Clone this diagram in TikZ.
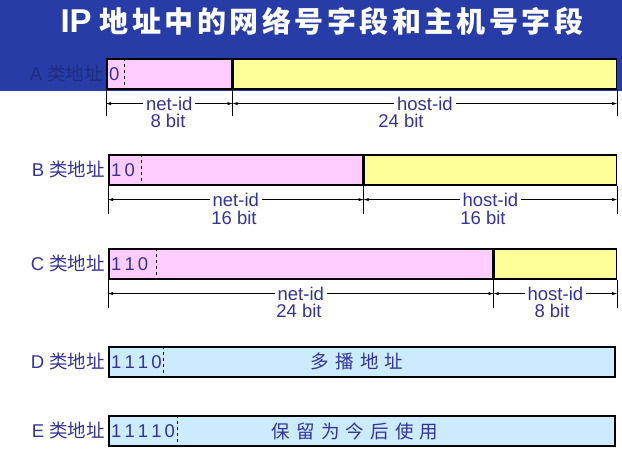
\documentclass[tikz,border=0pt]{standalone}
\usepackage{fontspec}
\setmainfont{Liberation Sans}
\newfontfamily\cjk{Noto Sans CJK SC}
\newfontfamily\cjktitle{Noto Sans CJK SC}[LetterSpace=12]
\usetikzlibrary{arrows.meta,positioning}
\definecolor{banner}{HTML}{283CA8}
\definecolor{ink}{HTML}{333399}
\definecolor{netpink}{HTML}{FFCCFF}
\definecolor{hostyellow}{HTML}{FFFF99}
\definecolor{resblue}{HTML}{CCEBFF}

\begin{document}
\begin{tikzpicture}[
    x=1pt, y=-1pt,
    font=\fontsize{18.5}{20}\selectfont\color{ink},
    field/.style={
        rectangle,
        draw=black,
        line width=1.6pt,
        minimum height=30pt,
        inner sep=0pt,
        anchor=north west
    },
    netfield/.style={field, fill=netpink},
    hostfield/.style={field, fill=hostyellow},
    resfield/.style={field, fill=resblue},
    classlabel/.style={anchor=east, inner sep=3pt},
    bits/.style={anchor=west, inner sep=3pt},
    sep/.style={dashed, thin, black},
    tick/.style={thin, black},
    dim/.style={draw=black, thin, {Latex[length=5pt,width=3pt]}-{Latex[length=5pt,width=3pt]}},
    dimtext/.style={fill=white, inner sep=3pt, align=center}
]
\useasboundingbox (0,0) rectangle (622,455);
\fill[banner] (0,0) rectangle (622,91);

% Title
\node[text=white, font=\fontsize{33}{36}\selectfont\bfseries] (title) at (322,21)
    {IP\hspace{8pt}\cjktitle\fontsize{29}{32}\selectfont\bfseries 地址中的网络号字段和主机号字段};

% A class
\node[netfield, minimum width=125pt] (anet) at (106,58) {};
\node[hostfield, minimum width=383pt, anchor=west] (ahost) at (anet.east) {};
\node[classlabel, text=banner!75!black] (alabel) at (anet.west) {A {\cjk 类地址}};
\node[bits] at (anet.west) {0};
\draw[sep] (124,58) -- (124,88);
\draw[tick] (anet.south west) -- ++(0,26) coordinate (a0);
\draw[tick] (anet.south east) -- ++(0,26) coordinate (a1);
\draw[tick] (ahost.south east) -- ++(0,26) coordinate (a2);
\draw[dim] ([yshift=12pt]a0) -- node[dimtext] {net-id} ([yshift=12pt]a1);
\draw[dim] ([yshift=12pt]a1) -- node[dimtext] {host-id} ([yshift=12pt]a2);
\node at (168,121) {8 bit};
\node at (401,121) {24 bit};

% B class
\node[netfield, minimum width=254pt] (bnet) at (108,154) {};
\node[hostfield, minimum width=252pt, anchor=west] (bhost) at (bnet.east) {};
\node[classlabel] (blabel) at (bnet.west) {B {\cjk 类地址}};
\node[bits] at (bnet.west) {1\,0};
\draw[sep] (141,154) -- (141,184);
\draw[tick] (bnet.south west) -- ++(0,28) coordinate (b0);
\draw[tick] (bnet.south east) -- ++(0,28) coordinate (b1);
\draw[tick] (bhost.south east) -- ++(0,28) coordinate (b2);
\draw[dim] ([yshift=14pt]b0) -- node[dimtext] {net-id} ([yshift=14pt]b1);
\draw[dim] ([yshift=14pt]b1) -- node[dimtext] {host-id} ([yshift=14pt]b2);
\node at (234,218) {16 bit};
\node at (483,218) {16 bit};

% C class
\node[netfield, minimum width=384pt] (cnet) at (108,248) {};
\node[hostfield, minimum width=122pt, anchor=west] (chost) at (cnet.east) {};
\node[classlabel] (clabel) at (cnet.west) {C {\cjk 类地址}};
\node[bits] at (cnet.west) {1\,1\,0};
\draw[sep] (156,248) -- (156,278);
\draw[tick] (cnet.south west) -- ++(0,28) coordinate (c0);
\draw[tick] (cnet.south east) -- ++(0,28) coordinate (c1);
\draw[tick] (chost.south east) -- ++(0,28) coordinate (c2);
\draw[dim] ([yshift=14pt]c0) -- node[dimtext] {net-id} ([yshift=14pt]c1);
\draw[dim] ([yshift=14pt]c1) -- node[dimtext] {host-id} ([yshift=14pt]c2);
\node at (299,311) {24 bit};
\node at (552,311) {8 bit};

% D class
\node[resfield, minimum width=506pt] (dres) at (108,346) {};
\node[classlabel] (dlabel) at (dres.west) {D {\cjk 类地址}};
\node[bits] at (dres.west) {1\,1\,1\,0};
\draw[sep] (163,346) -- (163,376);
\node at (357,361) {\cjk 多\,\,播\,\,地\,\,址};

% E class
\node[resfield, minimum width=506pt] (eres) at (108,415) {};
\node[classlabel] (elabel) at (eres.west) {E {\cjk 类地址}};
\node[bits] at (eres.west) {1\,1\,1\,1\,0};
\draw[sep] (177,415) -- (177,445);
\node at (355,431) {\cjk 保\,\,留\,\,为\,\,今\,\,后\,\,使\,\,用};

\end{tikzpicture}
\end{document}
